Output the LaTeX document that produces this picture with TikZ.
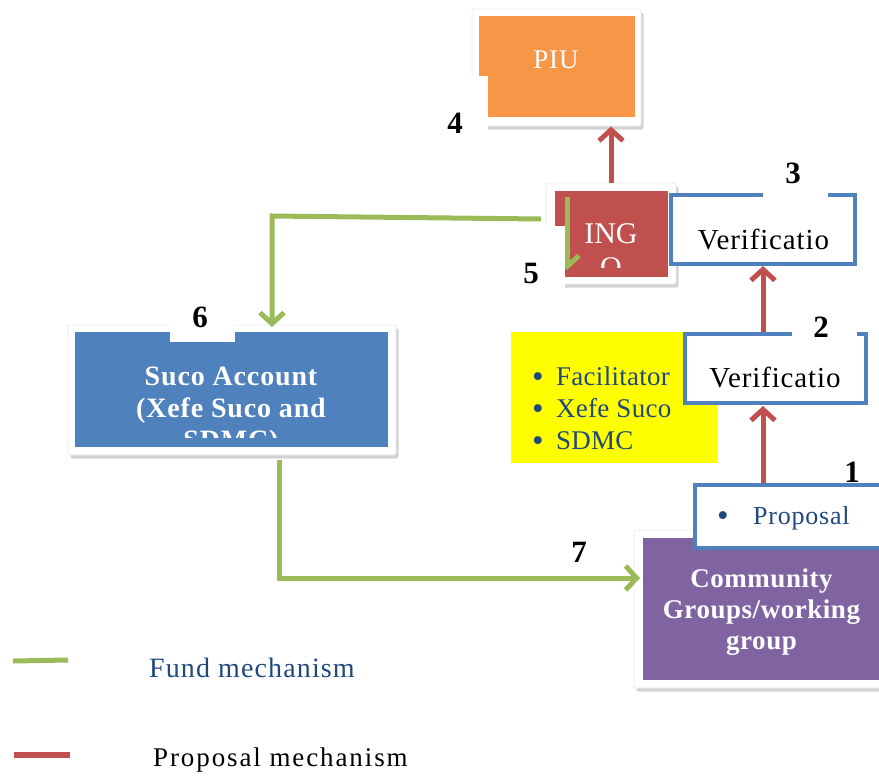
\documentclass[tikz,border=0pt]{standalone}
\usepackage{fontspec}
\setmainfont{Liberation Serif}
\usetikzlibrary{arrows.meta,shadows}
\definecolor{piuorange}{HTML}{F79646}
\definecolor{ingored}{HTML}{C0504D}
\definecolor{accblue}{HTML}{4F81BD}
\definecolor{compurple}{HTML}{8064A2}
\definecolor{fundgreen}{HTML}{9BBB59}
\definecolor{navytext}{HTML}{1F497D}
\definecolor{hiyellow}{HTML}{FFFF00}
\tikzset{
  frame/.style={draw=black!8, line width=0.8pt, fill=white, rounded corners=2pt, inner sep=0pt,
    drop shadow={opacity=0.35, shadow xshift=2.5pt, shadow yshift=-3.5pt}},
  fillbox/.style={draw=none, inner sep=0pt},
  bluebox/.style={draw=accblue, line width=4pt, fill=white, inner sep=0pt},
  patch/.style={draw=none, fill=white, inner sep=0pt},
  numtext/.style={inner sep=0pt, anchor=base, font=\fontsize{31pt}{34pt}\selectfont\bfseries},
  bullettext/.style={inner sep=0pt, text=navytext, font=\fontsize{33pt}{33pt}\selectfont},
  redarrow/.style={draw=ingored, line width=5pt, -{Straight Barb[length=11pt,width=24pt]}},
  greenarrow/.style={draw=fundgreen, line width=5pt, -{Straight Barb[length=11pt,width=24pt]}},
  plain/.style={inner sep=0pt}
}
\begin{document}
\begin{tikzpicture}[x=1pt,y=-1pt]
\useasboundingbox (0,0) rectangle (879,780);
\clip (0,0) rectangle (879,780);

% PIU
\node[frame, minimum width=169pt, minimum height=117pt] (piuframe) at (556.5,67.5) {};
\node[fillbox, fill=piuorange, minimum width=156pt, minimum height=101pt] (piu) at (557,66.5) {};
\node[plain, anchor=base, text=white, font=\fontsize{27pt}{30pt}\selectfont\addfontfeature{LetterSpace=3}] (piutext) at (556,68) {PIU};

% INGO
\node[frame, minimum width=130pt, minimum height=101pt] (ingoframe) at (611,233.5) {};
\node[fillbox, fill=ingored, minimum width=113pt, minimum height=86pt] (ingo) at (611.5,234) {};
\begin{scope}
  \clip (555,191) rectangle (668,267);
  \node[plain, anchor=base, text=white, align=center, font=\fontsize{30pt}{34pt}\selectfont] (ingotext) at (611,277) {ING\\O};
\end{scope}

% Suco account
\node[frame, minimum width=328pt, minimum height=130pt] (sucoframe) at (232,390) {};
\node[fillbox, fill=accblue, minimum width=313pt, minimum height=115pt] (suco) at (231.5,389.5) {};
\begin{scope}
  \clip (75,332) rectangle (388,437);
  \node[plain, anchor=base, text=white, align=center, font=\fontsize{28pt}{32pt}\selectfont\bfseries\addfontfeature{LetterSpace=3}] (sucotext) at (231,449) {Suco Account\\(Xefe Suco and\\SDMC)};
\end{scope}

% Community
\node[frame, minimum width=266pt, minimum height=158pt] (commframe) at (767,609) {};
\node[fillbox, fill=compurple, minimum width=257pt, minimum height=142pt] (comm) at (771.5,609) {};
\node[plain, anchor=base, text=white, align=center, font=\fontsize{27pt}{31pt}\selectfont\bfseries\addfontfeature{LetterSpace=2}] (commtext) at (761.5,649) {Community\\Groups/working\\group};

% Yellow box
\node[fillbox, fill=hiyellow, minimum width=207pt, minimum height=131pt] (yellow) at (614.5,397.5) {};
\foreach \yy/\tt [count=\i] in {385/Facilitator, 417/Xefe Suco, 449/SDMC}{
  \node[bullettext, anchor=base] (ybul\i) at (538,\yy+2) {\textbullet};
  \node[plain, anchor=base west, text=navytext, font=\fontsize{27pt}{30pt}\selectfont\addfontfeature{LetterSpace=1}] (yitem\i) at (556,\yy) {\tt};
}

% Verification boxes
\node[bluebox, minimum width=184pt, minimum height=69pt] (verif3) at (763,229.5) {};
\node[plain, anchor=base, font=\fontsize{29pt}{33pt}\selectfont\addfontfeature{LetterSpace=3}] (verif3text) at (763.5,249) {Verificatio};
\node[bluebox, minimum width=181pt, minimum height=69pt] (verif2) at (775.5,368.5) {};
\node[plain, anchor=base, font=\fontsize{29pt}{33pt}\selectfont\addfontfeature{LetterSpace=3}] (verif2text) at (775,387) {Verificatio};

% Proposal box
\node[bluebox, minimum width=205pt, minimum height=63pt] (proposal) at (797.5,516.5) {};
\node[bullettext, anchor=base] (propbul) at (723,526) {\textbullet};
\node[plain, anchor=base west, text=navytext, font=\fontsize{26pt}{30pt}\selectfont\addfontfeature{LetterSpace=3}] (proptext) at (753,524) {Proposal};

% Red arrows
\draw[redarrow] (ingoframe.north) -- (ingoframe.north |- piuframe.south);
\draw[redarrow] (verif3.south |- verif2.north) -- (verif3.south);
\draw[redarrow] (verif3.south |- proposal.north) -- ([yshift=-1pt]verif3.south |- verif2.south);

% Green arrows
\coordinate (g5start) at (541,219);
\coordinate (g5corner) at (272,216);
\coordinate (g5end) at (272,327);
\draw[greenarrow] (g5start) -- (g5corner) -- (g5end);
\coordinate (g5in) at (567,197);
\coordinate (g5out) at (567,270);
\draw[greenarrow] (g5in) -- (g5out);
\coordinate (g7start) at (279,460);
\coordinate (g7corner) at (279,578);
\coordinate (g7end) at (640,578);
\draw[greenarrow] (g7start) -- (g7corner) -- (g7end);

% Number patches and labels
\node[patch, minimum width=48pt, minimum height=59pt] (patch4) at (464,105.5) {};
\node[numtext] (num4) at (455,133) {4};
\node[patch, minimum width=65pt, minimum height=34pt] (patch3) at (795.5,180) {};
\node[numtext] (num3) at (793,183) {3};
\node[patch, minimum width=65pt, minimum height=64pt] (patch5) at (532.5,258) {};
\node[numtext] (num5) at (531,283) {5};
\node[patch, minimum width=65pt, minimum height=36pt] (patch2) at (824.5,318) {};
\node[numtext] (num2) at (821,337) {2};
\node[patch, minimum width=65pt, minimum height=42pt] (patch6) at (202.5,321) {};
\node[numtext] (num6) at (200,327) {6};
\node[numtext] (num1) at (852,482) {1};
\node[patch, minimum width=62pt, minimum height=40pt] (patch7) at (579,554) {};
\node[numtext] (num7) at (579,562) {7};

% Legend
\coordinate (lg1) at (13,661);
\coordinate (lg2) at (68,660);
\draw[fundgreen, line width=5pt, drop shadow={opacity=0.25, shadow xshift=1pt, shadow yshift=-2pt}] (lg1) -- (lg2);
\node[plain, anchor=base west, text=navytext, font=\fontsize{28pt}{30pt}\selectfont\addfontfeature{LetterSpace=4}] (legfund) at (149,677) {Fund mechanism};
\coordinate (lr1) at (14,755);
\coordinate (lr2) at (70,755);
\draw[ingored, line width=6pt] (lr1) -- (lr2);
\node[plain, anchor=base west, font=\fontsize{27pt}{30pt}\selectfont\addfontfeature{LetterSpace=7}] (legprop) at (153,766) {Proposal mechanism};
\end{tikzpicture}
\end{document}
